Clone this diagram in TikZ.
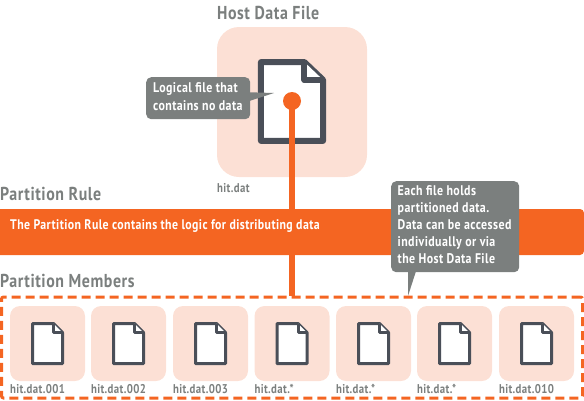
\documentclass[tikz,border=0pt]{standalone}
\usepackage{fontspec}
\setmainfont{PT Sans}[FakeStretch=0.85,LetterSpace=3]
\usepackage{xcolor}
\definecolor{rustbar}{HTML}{F46522}
\definecolor{peach}{HTML}{FCE0D5}
\definecolor{slatefile}{HTML}{4A4F58}
\definecolor{notegray}{HTML}{7B7F7E}

\begin{document}
\begin{tikzpicture}[
    x=1pt, y=-1pt,
    font=\bfseries,
    title/.style={text=notegray, inner sep=0pt, anchor=west, font=\bfseries\fontsize{18.7}{18}\selectfont},
    fname/.style={text=notegray, inner sep=0pt, anchor=west, font=\bfseries\fontsize{12.7}{12}\selectfont},
    peachbox/.style={fill=peach, rounded corners=#1, inner sep=0pt},
    peachbox/.default=10pt,
    note/.style={fill=notegray, rounded corners=5pt, text=white, align=left, anchor=north west, inner sep=0pt, font=\bfseries\fontsize{14}{17}\selectfont},
    link/.style={draw=rustbar, line width=6pt},
    pics/docfile/.style={code={
        \draw[slatefile, fill=white, line width=#1, line join=round]
            (-15,-20) -- (6,-20) -- (15,-11) -- (15,20) -- (-15,20) -- cycle;
        \draw[slatefile, fill=white, line width=#1, line join=round]
            (6,-20) -- (6,-11) -- (15,-11);
    }}
]

    \useasboundingbox (0,0) rectangle (584,400);

    % Host data file
    \node[title] (hosttitle) at (217,12.5) {Host Data File};
    \node[peachbox=22pt, minimum size=150pt] (hostbox) at (292,102) {};
    \node[fname] (hostname) at (217,188) {hit.dat};
    \pic[xscale=2.07, yscale=1.97] at (292,101.5) {docfile=6pt};
    \node[circle, fill=rustbar, minimum size=18pt, inner sep=0pt] (hostdot) at (292,101) {};

    % Members frame, the link ends on it
    \node[draw=rustbar, dash pattern=on 9pt off 5pt, line width=3pt, rounded corners=2pt,
        minimum width=581pt, minimum height=101pt, inner sep=0pt] (memberframe) at (292,347.5) {};
    \draw[link] (hostdot.center) -- (memberframe.north -| hostdot.center);

    % Partition rule
    \node[title] (ruletitle) at (0,194) {Partition Rule};
    \node[fill=rustbar, rounded corners=4pt, minimum width=588pt, minimum height=46pt, inner sep=0pt] (rulebar) at (290,232) {};
    \node[anchor=west, inner sep=0pt, text=white, font=\bfseries\fontsize{13.9}{14}\selectfont] (ruletext) at (10,226) {The Partition Rule contains the logic for distributing data};
    \node[title] (memberstitle) at (0,281) {Partition Members};

    % Member files
    \foreach \cx/\fn [count=\i] in {47.5/hit.dat.001, 128.5/hit.dat.002, 210.5/hit.dat.003, 292/hit.dat.*,
        373.5/hit.dat.*, 454.5/hit.dat.*, 536.5/hit.dat.010} {
        \node[peachbox, minimum size=75pt] (member\i) at (\cx,343.5) {};
        \pic at (\cx,343.5) {docfile=3pt};
        \node[fname, anchor=north west] (memname\i) at ([yshift=-3pt]member\i.south west) {\fn};
    }

    % Notes
    \coordinate (tiphost) at (274,93);
    \coordinate (tipmember) at (408,296);
    \fill[notegray] (240,92) -- (tiphost) -- (240,104) -- cycle;
    \node[note, minimum width=104pt, minimum height=42pt] (hostnote) at (146,77) {};
    \node[note] (hostnotetext) at (153,82.5) {Logical file that\\[1pt]contains no data};
    \fill[notegray] (408,265) -- (tipmember) -- (418,265) -- cycle;
    \node[note, minimum width=128pt, minimum height=91pt] (membernote) at (391,181) {};
    \node[note] (membernotetext) at (397.5,185.5) {Each file holds\\partitioned data.\\Data can be accessed\\individually or via\\the Host Data File};

\end{tikzpicture}
\end{document}
